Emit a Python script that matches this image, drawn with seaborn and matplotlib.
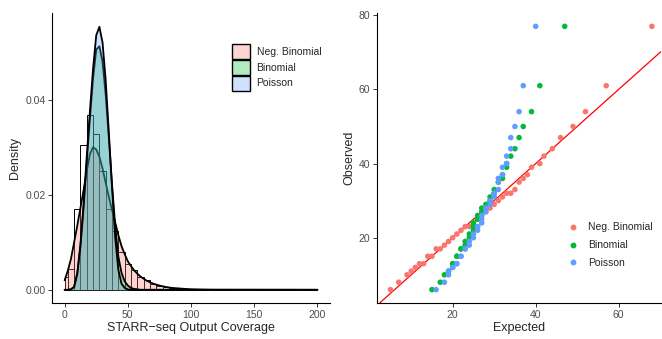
import numpy as np
import pandas as pd
import matplotlib
matplotlib.use("Agg")
import matplotlib.pyplot as plt
import seaborn as sns
from matplotlib.patches import Patch
from matplotlib.lines import Line2D

sns.set_theme(style="ticks")
plt.rcParams["font.family"] = ["Liberation Sans", "DejaVu Sans"]

# ---------------- data: left panel ----------------
hist_edges = [0, 2.5, 7.5, 12.5, 17.5, 22.5, 27.5, 32.5, 37.5, 42.5, 47.5, 52.5,
              57.5, 62.5, 67.5, 72.5, 77.5, 82.5, 87.5, 92.5, 97.5, 102.5, 107.5, 112.5]
hist_density = [0.0027, 0.0043, 0.0169, 0.0305, 0.0368, 0.0328, 0.0250, 0.0169,
                0.0123, 0.0079, 0.0055, 0.0041, 0.0028, 0.0020, 0.0013, 0.0009,
                0.0006, 0.0004, 0.0003, 0.0002, 0.00015, 0.0001, 0.0001]

dens_x = [0, 2.5, 5, 7.5, 10, 12.5, 15, 17.5, 20, 22.5, 25, 27.5, 30, 32.5, 35,
          37.5, 40, 42.5, 45, 47.5, 50, 52.5, 55, 57.5, 60, 65, 70, 75, 80, 85,
          90, 95, 100, 105, 110, 115, 120, 200]
negbin_density = [0.0020, 0.0040, 0.0065, 0.0100, 0.0135, 0.0172, 0.0210, 0.0250,
                  0.0285, 0.0300, 0.0295, 0.0280, 0.0255, 0.0225, 0.0195, 0.0168,
                  0.0142, 0.0115, 0.0092, 0.0075, 0.0060, 0.0050, 0.0041, 0.0034,
                  0.0028, 0.0019, 0.0013, 0.0009, 0.0006, 0.0004, 0.0003, 0.0002,
                  0.00012, 0.00008, 0.00005, 0.00003, 0.00002, 0.0]
binom_density = [0.0, 0.0, 0.0001, 0.0006, 0.0033, 0.0090, 0.0172, 0.0268, 0.0360,
                 0.0445, 0.0505, 0.0512, 0.0480, 0.0410, 0.0318, 0.0222, 0.0135,
                 0.0070, 0.0036, 0.0018, 0.0009, 0.0004, 0.0002, 0.0001, 0.0,
                 0.0, 0.0, 0.0, 0.0, 0.0, 0.0, 0.0, 0.0, 0.0, 0.0, 0.0, 0.0, 0.0]
pois_density = [0.0, 0.0, 0.0001, 0.0006, 0.0035, 0.0095, 0.0180, 0.0280, 0.0375,
                0.0465, 0.0535, 0.0553, 0.0520, 0.0440, 0.0330, 0.0215, 0.0110,
                0.0042, 0.0013, 0.0004, 0.0001, 0.0, 0.0, 0.0, 0.0,
                0.0, 0.0, 0.0, 0.0, 0.0, 0.0, 0.0, 0.0, 0.0, 0.0, 0.0, 0.0, 0.0]

# ---------------- data: right panel (QQ) ----------------
observed = [6, 8, 10, 11, 12, 13, 13, 15, 15, 17, 17, 18, 19, 20, 21, 22, 23, 23,
            24, 25, 26, 27, 28, 29, 30, 31, 32, 32, 33, 35, 36, 37, 39, 40, 42, 44,
            47, 50, 54, 61, 77]
expected_negbin = [5, 7, 9, 10, 11, 12, 13, 14, 15, 16, 17, 18, 19, 20, 21, 22, 23,
                   24, 25, 26, 27, 28, 29, 30, 31, 32, 33, 34, 35, 36, 37, 38, 39,
                   41, 42, 44, 46, 49, 52, 57, 68]
expected_binom = [15, 17, 18, 19, 20, 20, 20, 21, 21, 22, 22, 23, 23, 24, 24, 25, 25,
                  25, 25, 26, 26, 27, 27, 28, 29, 29, 30, 30, 30, 31, 32, 32, 33, 33,
                  34, 35, 36, 37, 39, 41, 47]
expected_pois = [16, 18, 19, 19, 20, 21, 21, 22, 22, 23, 23, 24, 24, 25, 25, 26, 26,
                 26, 27, 27, 27, 28, 28, 29, 29, 30, 30, 30, 31, 31, 31, 32, 32, 33,
                 33, 34, 34, 35, 36, 37, 40]

labels = ["Neg. Binomial", "Binomial", "Poisson"]
colors = ["#F8766D", "#00BA38", "#619CFF"]
FILL_ALPHA = 0.3

fig = plt.figure(figsize=(6.62, 3.39), dpi=100)
ax1 = fig.add_axes([52 / 662, 1 - 303 / 339, (330 - 52) / 662, (303 - 13) / 339])
ax2 = fig.add_axes([377 / 662, 1 - 303 / 339, (661 - 377) / 662, (303 - 13) / 339])

# ---------- left: histogram + densities ----------
hist_mid = [(hist_edges[i] + hist_edges[i + 1]) / 2 for i in range(len(hist_density))]
sns.histplot(x=hist_mid, weights=hist_density, bins=hist_edges, stat="count",
             color="white", edgecolor="black", linewidth=0.7, alpha=1, ax=ax1,
             zorder=0.5)

z = 1.0
for dens, col in zip([negbin_density, binom_density, pois_density], colors):
    ax1.fill_between(dens_x, dens, 0, color=col, alpha=FILL_ALPHA, linewidth=0,
                     zorder=z)
    sns.lineplot(x=dens_x, y=dens, color="black", linewidth=1.3, ax=ax1,
                 estimator=None, sort=False, zorder=z + 0.1)
    z += 0.2

ax1.set_xlim(-10, 210)
ax1.set_ylim(-0.00277, 0.0582)
ax1.set_xticks([0, 50, 100, 150, 200])
ax1.set_yticks([0.0, 0.02, 0.04])
ax1.set_yticklabels(["0.00", "0.02", "0.04"])
ax1.set_xlabel("STARR\u2212seq Output Coverage", fontsize=9, labelpad=2)
ax1.set_ylabel("Density", fontsize=9, labelpad=3)

handles1 = [Patch(facecolor=matplotlib.colors.to_rgba(c, FILL_ALPHA), edgecolor="black",
                  linewidth=1.0) for c in colors]
ax1.legend(handles1, labels, loc="upper left", bbox_to_anchor=(0.646, 0.892),
           frameon=False, fontsize=7.5, handlelength=1.75, handleheight=1.85,
           labelspacing=0.05, handletextpad=0.65, borderpad=0, borderaxespad=0)

# ---------- right: QQ plot ----------
qq = pd.DataFrame({
    "Expected": expected_negbin + expected_binom + expected_pois,
    "Observed": observed * 3,
    "dist": [labels[0]] * len(observed) + [labels[1]] * len(observed) + [labels[2]] * len(observed),
})
ax2.axline((0, 0), slope=1, color="red", linewidth=0.9, zorder=1)
sns.scatterplot(data=qq, x="Expected", y="Observed", hue="dist", hue_order=labels,
                palette=colors, s=16, linewidth=0, ax=ax2, legend=False, zorder=3)
ax2.set_xlim(1.76, 70.2)
ax2.set_ylim(2.4, 80.6)
ax2.set_xticks([20, 40, 60])
ax2.set_yticks([20, 40, 60, 80])
ax2.set_xlabel("Expected", fontsize=9, labelpad=2)
ax2.set_ylabel("Observed", fontsize=9, labelpad=2.5)

handles2 = [Line2D([], [], marker="o", linestyle="none", markersize=4.2,
                   markerfacecolor=c, markeredgewidth=0) for c in colors]
ax2.legend(handles2, labels, loc="upper left", bbox_to_anchor=(0.671, 0.278),
           frameon=False, fontsize=7.5, handlelength=1.0, labelspacing=0.75,
           handletextpad=1.0, borderpad=0, borderaxespad=0)

for ax in (ax1, ax2):
    sns.despine(ax=ax)
    for s in ("left", "bottom"):
        ax.spines[s].set_linewidth(0.8)
        ax.spines[s].set_color("black")
    ax.tick_params(length=2.75, width=0.7, color="#333333", labelcolor="#4D4D4D",
                   labelsize=7.5, pad=2)

fig.savefig("out.png", dpi=100)
